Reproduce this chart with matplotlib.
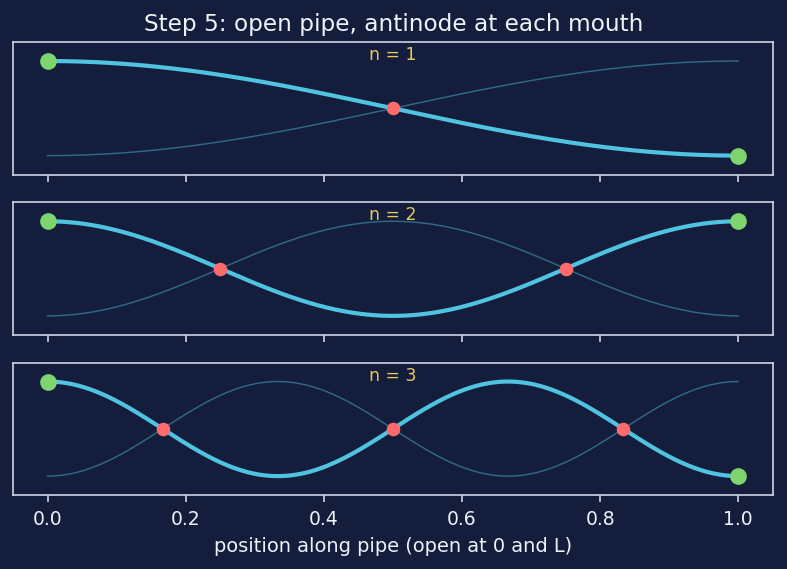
import numpy as np
import matplotlib
matplotlib.use('Agg')
import matplotlib.pyplot as plt

# mode numbers and the node / antinode positions (x / L)
modes = [1, 2, 3]
nodes = {1: [0.5], 2: [0.25, 0.75], 3: [1 / 6, 0.5, 5 / 6]}
antinodes = [0.0, 1.0]
x_ticks = [0.0, 0.2, 0.4, 0.6, 0.8, 1.0]

bg = '#141e3c'
fg = '#eef1f7'
spine_col = '#ccd4e4'
wave_col = '#4fc3e0'
node_col = '#ff6b6b'
anti_col = '#7ed56f'
label_col = '#e8c75a'

x = np.linspace(0, 1, 400)

fig, axes = plt.subplots(3, 1, figsize=(787 / 150, 569 / 150), dpi=150, sharex=True)
fig.patch.set_facecolor(bg)

for ax, n in zip(axes, modes):
    ax.set_facecolor(bg)
    y = np.cos(n * np.pi * x)
    ax.plot(x, -y, color=wave_col, lw=0.7, alpha=0.45)
    ax.plot(x, y, color=wave_col, lw=2.0)
    ax.plot(nodes[n], np.cos(n * np.pi * np.array(nodes[n])), 'o',
            color=node_col, ms=5.5, zorder=5)
    ax.plot(antinodes, np.cos(n * np.pi * np.array(antinodes)), 'o',
            color=anti_col, ms=7, zorder=5)
    ax.text(0.5, 0.97, f'n = {n}', transform=ax.transAxes, ha='center',
            va='top', color=label_col, fontsize=8.3)
    ax.set_ylim(-1.4, 1.4)
    ax.set_yticks([])
    for s in ax.spines.values():
        s.set_color(spine_col)
        s.set_linewidth(0.8)
    ax.tick_params(axis='x', colors=spine_col, labelcolor=fg, labelsize=9)

axes[-1].set_xticks(x_ticks)
axes[-1].set_xlabel('position along pipe (open at 0 and L)', color=fg, fontsize=9.3)
fig.suptitle('Step 5: open pipe, antinode at each mouth', color=fg, fontsize=11.2,
             y=0.978)
fig.subplots_adjust(left=0.0165, right=0.982, top=0.926, bottom=0.13, hspace=0.21)
plt.savefig('out.png', facecolor=bg)
